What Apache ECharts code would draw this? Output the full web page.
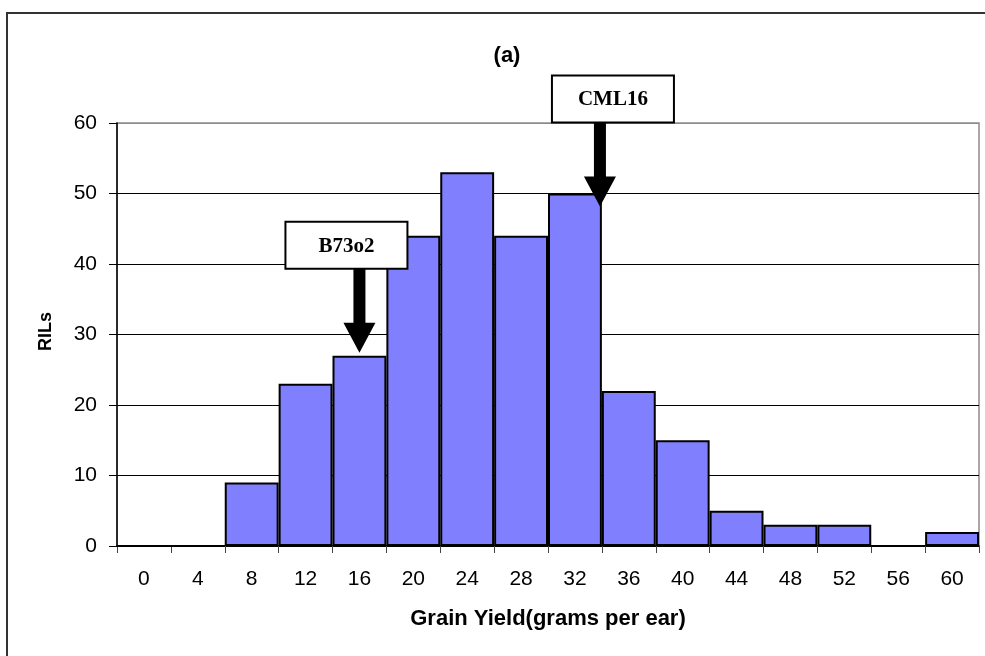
<!DOCTYPE html>
<html>
<head>
<meta charset="utf-8">
<script src="https://cdn.jsdelivr.net/npm/echarts@6/dist/echarts.min.js"></script>
<style>
  html, body { margin: 0; padding: 0; background: #fff; }
  #chart { width: 985px; height: 656px; }
</style>
</head>
<body>
<div id="chart"></div>
<script>
// Grain yield bins (grams per ear) and number of RILs in each bin
const yieldBins = ['0', '4', '8', '12', '16', '20', '24', '28', '32', '36', '40', '44', '48', '52', '56', '60'];
const rilCounts = [0, 0, 9, 23, 27, 44, 53, 44, 50, 22, 15, 5, 3, 3, 0, 2];
const yTicks = [0, 10, 20, 30, 40, 50, 60];

// Parental lines marked with arrows, anchored on their bins
const parentNames = ['B73o2', 'CML16'];
const parentBins = ['16', '32'];
const parentCounts = [27, 50];

const SANS = '"Liberation Sans", Arial, sans-serif';
const SERIF = '"Liberation Serif", "Times New Roman", serif';

const chart = echarts.init(document.getElementById('chart'), null, { renderer: 'canvas' });

chart.setOption({
  animation: false,
  backgroundColor: '#fff',
  title: {
    text: '(a)',
    left: 502,
    top: 40,
    textAlign: 'center',
    textStyle: { fontFamily: SANS, fontWeight: 'bold', fontSize: 22, color: '#000' }
  },
  grid: {
    left: 117, right: 6, top: 123, bottom: 110,
    show: true, borderColor: '#8c8c8c', borderWidth: 1.5, backgroundColor: '#fff'
  },
  xAxis: {
    type: 'category',
    data: yieldBins,
    name: 'Grain Yield(grams per ear)',
    nameLocation: 'middle',
    nameGap: 62,
    nameTextStyle: { fontFamily: SANS, fontWeight: 'bold', fontSize: 22, color: '#000' },
    axisLine: { show: true, lineStyle: { color: '#000', width: 1.5 } },
    axisTick: { show: true, length: 7, alignWithLabel: false, lineStyle: { color: '#444', width: 1 } },
    axisLabel: { margin: 23, fontFamily: SANS, fontSize: 21, color: '#000' },
    splitLine: { show: false }
  },
  yAxis: {
    type: 'value',
    min: yTicks[0],
    max: yTicks[yTicks.length - 1],
    interval: 10,
    name: 'RILs',
    nameLocation: 'middle',
    nameGap: 62,
    nameTextStyle: { fontFamily: SANS, fontWeight: 'bold', fontSize: 18, color: '#000', padding: [0, 0, 0, 6] },
    axisLine: { show: true, lineStyle: { color: '#000', width: 1.5 } },
    axisTick: { show: true, length: 8, lineStyle: { color: '#000', width: 1 } },
    axisLabel: { margin: 20, fontFamily: SANS, fontSize: 21, color: '#000' },
    splitLine: {
      show: true,
      lineStyle: { color: ['#000', '#000', '#000', '#000', '#000', '#000', '#8c8c8c'], width: 1 }
    }
  },
  series: [{
    type: 'bar',
    data: rilCounts,
    barCategoryGap: 0,
    barGap: 0,
    itemStyle: { color: '#8080ff', borderColor: '#000', borderWidth: 2 },
    z: 3
  }]
});

// Arrow (shaft + head) pointing down to tip, with a label box above it
function parentMarker(name, tip, boxShiftX, z) {
  const shaftW = 12, headW = 32, headLen = 30, shaftLen = 54;
  const boxW = 122, boxH = 47;
  const headTop = tip[1] - headLen;
  const shaftTop = headTop - shaftLen;
  const boxLeft = tip[0] + boxShiftX - boxW / 2;
  const boxTop = shaftTop - boxH;
  return [
    {
      type: 'polygon', z: z, silent: true,
      shape: {
        points: [
          [tip[0] - shaftW / 2, shaftTop],
          [tip[0] + shaftW / 2, shaftTop],
          [tip[0] + shaftW / 2, headTop],
          [tip[0] + headW / 2, headTop],
          [tip[0], tip[1]],
          [tip[0] - headW / 2, headTop],
          [tip[0] - shaftW / 2, headTop]
        ]
      },
      style: { fill: '#000' }
    },
    {
      type: 'rect', z: z, silent: true,
      shape: { x: boxLeft, y: boxTop, width: boxW, height: boxH },
      style: { fill: '#fff', stroke: '#000', lineWidth: 2 }
    },
    {
      type: 'text', z: z + 1, silent: true,
      x: boxLeft + boxW / 2, y: boxTop + boxH / 2 + 1,
      style: {
        text: name, fill: '#000', align: 'center', verticalAlign: 'middle',
        font: 'bold 21px ' + SERIF
      }
    }
  ];
}

const tipShift = [[0, -3], [25, 13]];   // arrow tip offset from the bar-top centre
const boxShift = [-13, 13];              // label box offset from the arrow axis
let overlay = [
  {
    type: 'rect', z: 0, silent: true,
    shape: { x: 7, y: 13, width: 1000, height: 700 },
    style: { fill: 'none', stroke: '#333', lineWidth: 2 }
  }
];
parentNames.forEach(function (name, i) {
  const p = chart.convertToPixel({ xAxisIndex: 0, yAxisIndex: 0 }, [parentBins[i], parentCounts[i]]);
  const tip = [p[0] + tipShift[i][0], p[1] + tipShift[i][1]];
  overlay = overlay.concat(parentMarker(name, tip, boxShift[i], 20));
});
chart.setOption({ graphic: overlay });
</script>
</body>
</html>
